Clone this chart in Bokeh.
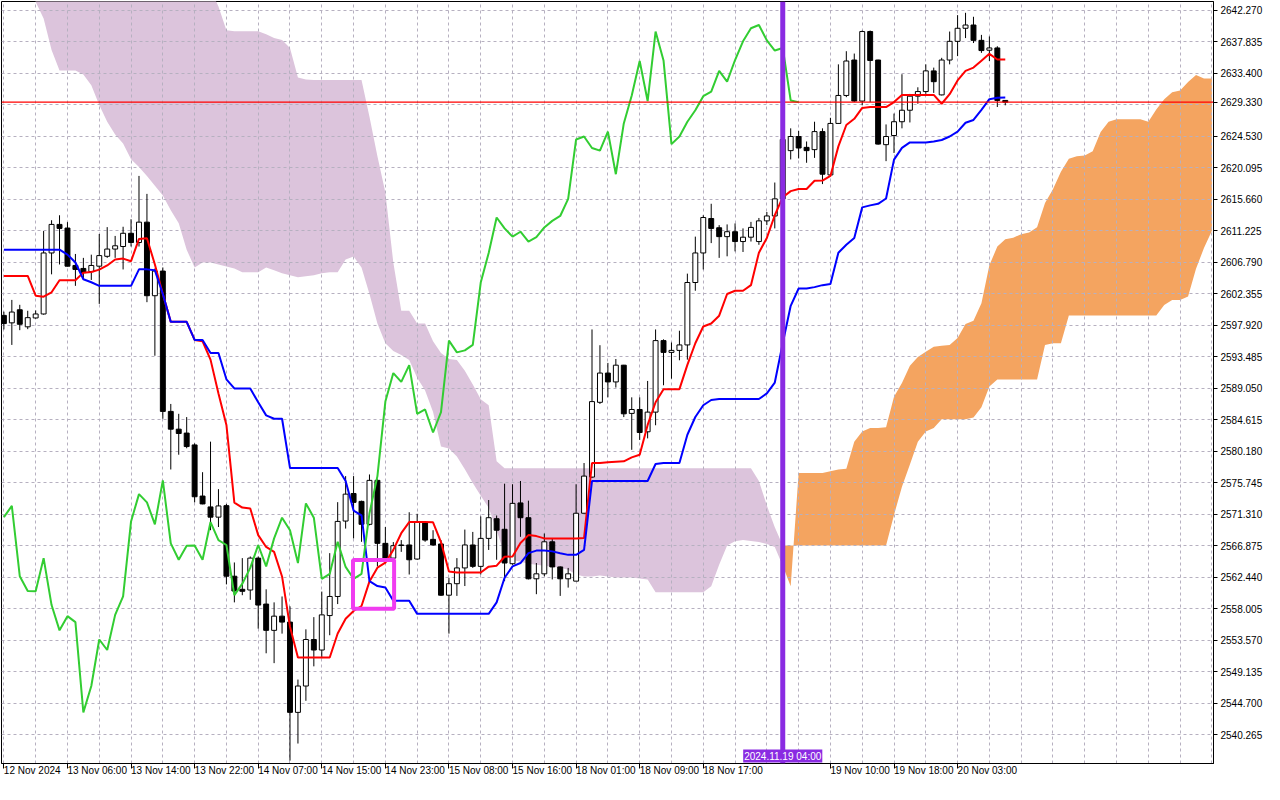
import numpy as np
from bokeh.plotting import figure
from bokeh.models import FixedTicker, Range1d, Span, Label, NumeralTickFormatter
from bokeh.embed import file_html
from bokeh.resources import INLINE

# ---------------- data (XAUUSD H1, Ichimoku 9/26/52) ----------------
opens = [
    2599.30, 2598.25, 2600.09, 2597.69, 2598.94, 2599.50, 2608.09, 2612.11, 2611.60, 2606.33,
    2605.91, 2605.46, 2606.23, 2607.62, 2608.64, 2609.00, 2610.86, 2609.56, 2612.43, 2602.07,
    2605.54, 2585.78, 2583.28, 2582.73, 2581.06, 2573.86, 2572.33, 2570.89, 2572.51, 2562.57,
    2560.73, 2560.63, 2565.12, 2558.65, 2554.95, 2556.95, 2556.11, 2543.40, 2547.11, 2553.66,
    2552.18, 2557.03, 2559.72, 2570.34, 2574.22, 2573.11, 2569.88, 2576.07, 2567.20, 2565.12,
    2566.97, 2566.97, 2564.99, 2570.06, 2567.76, 2567.11, 2559.90, 2561.52, 2563.74, 2566.97,
    2563.96, 2567.90, 2570.67, 2569.18, 2564.33, 2572.89, 2570.81, 2562.21, 2562.91, 2567.42,
    2563.88, 2562.21, 2561.88, 2571.44, 2576.53, 2587.06, 2591.18, 2589.93, 2592.29, 2585.50,
    2586.05, 2582.91, 2585.68, 2595.75, 2594.09, 2594.37, 2595.14, 2603.93, 2608.09, 2612.94,
    2611.64, 2610.39, 2611.08, 2609.70, 2610.31, 2609.70, 2612.61, 2613.30, 2615.71, 2622.50,
    2624.49, 2622.96, 2622.64, 2625.18, 2619.08, 2626.33, 2630.27, 2635.26, 2629.48, 2639.27,
    2635.26, 2623.34, 2624.63, 2626.57, 2628.19, 2630.17, 2630.82, 2633.73, 2630.35, 2635.26,
    2637.89, 2639.73, 2640.19, 2638.03, 2636.64, 2636.96, 2629.57]
highs = [
    2599.82, 2601.48, 2600.79, 2599.95, 2600.00, 2611.18, 2612.70, 2613.40, 2612.43, 2607.95,
    2607.40, 2607.85, 2610.76, 2611.73, 2610.49, 2611.78, 2612.84, 2618.94, 2616.41, 2605.90,
    2606.05, 2586.83, 2585.44, 2584.98, 2581.28, 2577.22, 2581.52, 2574.83, 2572.75, 2564.51,
    2565.12, 2565.35, 2565.35, 2560.73, 2558.89, 2559.72, 2558.33, 2548.02, 2555.09, 2556.81,
    2560.41, 2565.82, 2573.00, 2576.67, 2576.67, 2573.21, 2576.90, 2576.21, 2569.50, 2567.38,
    2567.66, 2571.58, 2571.36, 2570.20, 2569.05, 2567.66, 2562.35, 2565.12, 2569.14, 2568.81,
    2570.99, 2573.30, 2571.12, 2575.60, 2575.52, 2575.98, 2573.21, 2564.43, 2568.59, 2567.90,
    2563.96, 2563.74, 2575.52, 2578.51, 2597.32, 2595.10, 2592.61, 2593.16, 2592.33, 2587.76,
    2587.76, 2590.07, 2597.32, 2595.93, 2595.48, 2597.14, 2605.18, 2610.39, 2613.40, 2615.02,
    2612.01, 2612.11, 2612.25, 2611.55, 2612.47, 2613.02, 2613.86, 2618.01, 2624.60, 2625.64,
    2625.28, 2623.79, 2626.57, 2625.64, 2627.12, 2634.65, 2636.50, 2636.17, 2639.41, 2639.41,
    2635.30, 2626.19, 2627.72, 2633.26, 2630.49, 2631.42, 2634.65, 2634.19, 2635.57, 2639.27,
    2641.58, 2641.91, 2641.35, 2638.80, 2638.58, 2637.20, 2629.57]
lows = [
    2597.32, 2595.14, 2597.22, 2597.36, 2598.84, 2599.40, 2605.08, 2606.47, 2606.19, 2603.46,
    2604.39, 2604.29, 2600.92, 2607.40, 2607.40, 2605.77, 2609.00, 2609.00, 2601.16, 2593.62,
    2584.75, 2577.60, 2579.68, 2580.59, 2572.97, 2572.70, 2569.05, 2569.50, 2561.42, 2558.89,
    2559.90, 2559.25, 2555.19, 2551.72, 2550.33, 2554.49, 2536.61, 2539.01, 2545.03, 2549.88,
    2551.03, 2554.26, 2558.65, 2569.28, 2567.90, 2567.42, 2569.74, 2563.96, 2564.43, 2564.89,
    2566.00, 2562.81, 2564.89, 2567.42, 2566.83, 2559.80, 2554.49, 2559.80, 2561.19, 2563.74,
    2562.81, 2566.27, 2564.89, 2561.88, 2564.19, 2568.12, 2562.12, 2560.04, 2562.57, 2562.12,
    2559.80, 2560.97, 2561.88, 2571.40, 2576.39, 2586.83, 2587.76, 2589.14, 2584.98, 2580.37,
    2581.76, 2581.98, 2583.83, 2589.46, 2590.39, 2592.98, 2593.07, 2602.77, 2605.77, 2609.48,
    2607.40, 2607.62, 2608.31, 2608.23, 2609.70, 2609.24, 2612.01, 2611.55, 2615.20, 2621.26,
    2621.40, 2620.79, 2621.48, 2617.79, 2618.94, 2626.29, 2630.03, 2629.34, 2628.88, 2629.34,
    2623.34, 2621.02, 2622.17, 2625.64, 2626.47, 2629.10, 2630.49, 2630.63, 2630.27, 2634.65,
    2635.81, 2638.35, 2637.65, 2636.27, 2635.12, 2628.64, 2628.88]
closes = [
    2598.15, 2599.77, 2598.05, 2598.98, 2599.50, 2608.09, 2612.11, 2611.55, 2606.23, 2605.77,
    2605.32, 2606.33, 2607.72, 2608.64, 2609.10, 2610.86, 2609.56, 2612.43, 2602.07, 2605.54,
    2585.78, 2583.28, 2582.67, 2580.83, 2573.76, 2572.75, 2570.89, 2572.47, 2562.57, 2560.49,
    2560.45, 2565.12, 2558.51, 2554.95, 2556.95, 2556.11, 2543.40, 2547.11, 2553.66, 2552.18,
    2557.13, 2559.72, 2570.29, 2574.13, 2572.97, 2569.88, 2576.07, 2567.20, 2564.89, 2566.87,
    2566.90, 2564.89, 2570.20, 2567.66, 2566.97, 2559.90, 2561.52, 2563.74, 2566.97, 2563.96,
    2567.90, 2570.81, 2569.05, 2564.43, 2572.83, 2570.81, 2562.21, 2562.91, 2567.42, 2563.88,
    2562.21, 2562.91, 2571.44, 2576.67, 2587.16, 2591.18, 2589.93, 2592.29, 2585.44, 2586.05,
    2582.81, 2585.68, 2595.75, 2594.09, 2594.37, 2595.14, 2603.93, 2608.09, 2613.08, 2611.55,
    2610.39, 2611.08, 2609.70, 2610.31, 2611.69, 2612.61, 2613.30, 2615.71, 2624.07, 2624.49,
    2622.87, 2622.50, 2625.18, 2619.18, 2626.33, 2630.27, 2635.12, 2629.48, 2639.27, 2635.20,
    2623.42, 2624.49, 2626.57, 2628.19, 2630.17, 2630.82, 2633.73, 2632.21, 2635.26, 2637.89,
    2639.73, 2640.19, 2638.03, 2636.59, 2636.96, 2629.57, 2629.33]

tenkan = [
    2604.85, 2604.85, 2604.85, 2604.85, 2602.08, 2601.94, 2602.55, 2604.25, 2604.25, 2604.25,
    2605.32, 2605.40, 2605.74, 2606.33, 2607.16, 2607.30, 2606.93, 2610.07, 2610.17, 2606.47,
    2602.31, 2598.39, 2598.39, 2598.39, 2595.84, 2595.66, 2593.07, 2588.31, 2583.88, 2572.93,
    2572.24, 2572.10, 2568.36, 2566.69, 2566.00, 2562.54, 2555.47, 2551.13, 2551.13, 2551.13,
    2551.13, 2551.13, 2554.50, 2556.58, 2557.68, 2558.38, 2561.84, 2563.78, 2564.48, 2566.28,
    2568.63, 2570.20, 2570.20, 2570.20, 2570.16, 2567.39, 2563.23, 2563.09, 2563.09, 2563.09,
    2563.09, 2563.92, 2564.06, 2565.31, 2565.35, 2567.25, 2568.36, 2568.22, 2567.90, 2567.90,
    2567.90, 2567.90, 2567.90, 2567.94, 2578.51, 2578.51, 2578.61, 2578.68, 2578.75, 2579.31,
    2579.68, 2583.88, 2587.07, 2588.91, 2588.91, 2588.91, 2592.33, 2595.38, 2597.74, 2598.15,
    2599.26, 2602.31, 2602.77, 2602.77, 2603.56, 2608.13, 2610.21, 2613.40, 2615.94, 2616.80,
    2617.10, 2617.10, 2618.25, 2618.29, 2618.94, 2623.10, 2626.11, 2626.98, 2628.51, 2628.64,
    2628.64, 2628.64, 2629.34, 2630.35, 2630.35, 2630.35, 2630.35, 2630.35, 2629.10, 2630.45,
    2632.39, 2633.73, 2634.19, 2635.16, 2636.13, 2635.34, 2635.34]
kijun = [
    2608.55, 2608.55, 2608.55, 2608.55, 2608.55, 2608.55, 2608.55, 2608.55, 2607.86, 2606.75,
    2604.39, 2603.97, 2603.46, 2603.46, 2603.46, 2603.46, 2603.46, 2605.78, 2605.78, 2605.64,
    2602.31, 2598.39, 2598.39, 2598.39, 2595.84, 2595.84, 2594.00, 2594.00, 2590.30, 2589.01,
    2589.01, 2589.01, 2587.07, 2585.22, 2584.75, 2584.75, 2577.82, 2577.82, 2577.82, 2577.82,
    2577.82, 2577.82, 2577.82, 2575.98, 2571.82, 2571.13, 2561.88, 2561.19, 2560.97, 2559.11,
    2559.11, 2559.11, 2557.27, 2557.27, 2557.27, 2557.27, 2557.27, 2557.27, 2557.27, 2557.27,
    2557.27, 2557.27, 2558.89, 2562.36, 2563.96, 2564.43, 2565.82, 2566.18, 2566.18, 2566.07,
    2565.82, 2565.58, 2565.58, 2566.28, 2575.98, 2575.98, 2575.98, 2575.98, 2575.98, 2575.98,
    2575.98, 2575.98, 2578.38, 2578.51, 2578.51, 2578.51, 2582.49, 2584.99, 2586.65, 2587.39,
    2587.52, 2587.52, 2587.52, 2587.52, 2587.52, 2587.52, 2588.31, 2589.84, 2595.38, 2600.65,
    2603.09, 2603.09, 2603.28, 2603.56, 2603.73, 2608.13, 2609.24, 2610.21, 2614.51, 2614.79,
    2615.01, 2615.76, 2621.23, 2622.89, 2623.66, 2623.66, 2623.66, 2623.79, 2624.00, 2624.49,
    2625.18, 2626.43, 2626.82, 2628.23, 2629.75, 2629.96, 2629.98]

# Senkou spans as plotted (already shifted 26 bars forward; 153 bar slots)
span_a = [
    2647.50, 2647.00, 2646.50, 2645.30, 2643.47, 2641.12, 2636.68, 2633.77, 2633.77, 2633.77,
    2633.22, 2631.70, 2628.92, 2626.57, 2624.76, 2623.52, 2621.30, 2620.19, 2618.94, 2617.56,
    2616.17, 2614.09, 2612.29, 2608.55, 2606.05, 2606.75, 2606.75, 2606.47, 2606.19, 2605.91,
    2605.36, 2605.36, 2605.36, 2606.05, 2605.64, 2605.22, 2604.95, 2604.67, 2604.81, 2604.95,
    2605.22, 2605.36, 2605.36, 2607.16, 2607.58, 2606.05, 2602.31, 2598.15, 2595.38, 2594.27,
    2593.72, 2593.03, 2590.53, 2588.73, 2585.68, 2580.83, 2580.55, 2579.44, 2577.64, 2575.70,
    2573.90, 2572.23, 2569.05, 2565.58, 2564.89, 2564.61, 2564.33, 2564.19, 2564.05, 2563.92,
    2563.78, 2563.50, 2562.81, 2562.53, 2562.53, 2562.67, 2562.53, 2562.39, 2562.39, 2562.39,
    2562.26, 2562.12, 2560.32, 2560.32, 2560.32, 2560.32, 2560.32, 2560.32, 2560.32, 2561.15,
    2564.20, 2566.90, 2567.50, 2567.66, 2567.52, 2567.38, 2567.11, 2566.69, 2564.05, 2561.15,
    2577.11, 2577.11, 2577.11, 2577.11, 2577.35, 2577.60, 2577.70, 2581.50, 2582.96, 2583.45,
    2583.45, 2583.54, 2587.83, 2589.78, 2592.22, 2593.44, 2594.17, 2594.90, 2595.04, 2595.14,
    2596.12, 2598.07, 2598.55, 2601.00, 2606.35, 2609.00, 2610.01, 2610.25, 2610.74, 2610.98,
    2611.71, 2615.12, 2617.07, 2619.51, 2621.36, 2621.70, 2621.80, 2622.43, 2625.11, 2626.58,
    2626.92, 2626.92, 2626.92, 2626.92, 2626.58, 2628.28, 2629.74, 2630.72, 2630.96, 2632.18,
    2633.16, 2632.67, 2632.67]
span_b = [
    2648.00, 2648.00, 2648.00, 2648.00, 2648.00, 2648.00, 2648.00, 2648.00, 2648.00, 2648.00,
    2648.00, 2648.00, 2648.00, 2648.00, 2648.00, 2648.00, 2648.00, 2648.00, 2648.00, 2648.00,
    2648.00, 2648.00, 2648.00, 2648.00, 2648.00, 2647.00, 2645.30, 2642.78, 2639.46, 2639.32,
    2639.32, 2639.32, 2639.32, 2638.90, 2638.35, 2638.07, 2636.96, 2632.80, 2632.53, 2632.43,
    2632.43, 2632.43, 2632.43, 2632.43, 2632.43, 2632.43, 2627.26, 2621.72, 2616.59, 2606.74,
    2599.95, 2599.95, 2598.15, 2598.15, 2595.66, 2593.99, 2593.16, 2593.03, 2591.50, 2589.56,
    2587.48, 2586.65, 2578.75, 2577.78, 2577.78, 2577.78, 2577.78, 2577.78, 2577.78, 2577.78,
    2577.78, 2577.78, 2577.78, 2577.78, 2577.78, 2577.78, 2577.78, 2577.78, 2577.78, 2577.78,
    2577.78, 2577.78, 2577.78, 2577.78, 2577.78, 2577.78, 2577.78, 2577.78, 2577.78, 2577.78,
    2577.78, 2577.78, 2577.78, 2577.78, 2577.78, 2575.98, 2572.52, 2569.47, 2566.88, 2566.88,
    2566.88, 2566.88, 2566.88, 2566.88, 2566.88, 2566.88, 2566.88, 2566.88, 2566.88, 2566.88,
    2566.88, 2566.88, 2571.20, 2575.16, 2578.30, 2581.50, 2582.96, 2583.45, 2584.66, 2584.66,
    2584.66, 2584.66, 2584.91, 2586.37, 2589.29, 2590.27, 2590.27, 2590.27, 2590.27, 2590.27,
    2590.27, 2595.14, 2595.39, 2595.39, 2599.28, 2599.28, 2599.28, 2599.28, 2599.28, 2599.28,
    2599.28, 2599.28, 2599.28, 2599.28, 2599.28, 2599.28, 2600.75, 2601.48, 2601.48, 2601.97,
    2605.86, 2608.79, 2611.23]

CHIKOU_SHIFT = 26
CLOUD_SWITCH = 98          # bar where the cloud turns from Span B above (thistle) to Span A above (orange)

x_tick_bars = [0, 8, 16, 24, 32, 40, 48, 56, 64, 72, 80, 88, 104, 112, 120]
x_tick_labels = ["12 Nov 2024", "13 Nov 06:00", "13 Nov 14:00", "13 Nov 22:00", "14 Nov 07:00",
                 "14 Nov 15:00", "14 Nov 23:00", "15 Nov 08:00", "15 Nov 16:00", "18 Nov 01:00",
                 "18 Nov 09:00", "18 Nov 17:00", "19 Nov 10:00", "19 Nov 18:00", "20 Nov 03:00"]
grid_bars = [0, 4, 8, 12, 16, 20, 24, 28, 32, 36, 40, 44, 48, 52, 56, 60, 64, 68, 72, 76, 80, 84, 88,
             92, 96, 100, 104, 108, 112, 116, 120, 124, 128, 132, 136, 140, 144, 148, 152]
y_ticks = [2540.265, 2544.700, 2549.135, 2553.570, 2558.005, 2562.440, 2566.875, 2571.310,
           2575.745, 2580.180, 2584.615, 2589.050, 2593.485, 2597.920, 2602.355, 2606.790,
           2611.225, 2615.660, 2620.095, 2624.530, 2628.965, 2633.400, 2637.835, 2642.270]

bid_price = 2629.33
marker_bar = 98
marker_label = "2024.11.19 04:00"
box_bars = [43.93, 49.10]
box_prices = [2558.00, 2564.85]

# ---------------- figure ----------------
FONT = "Liberation Sans"
o = np.array(opens); h = np.array(highs); l = np.array(lows); c = np.array(closes)
n = len(c)
idx = np.arange(n)
up = c >= o
body_top = np.maximum(o, c)
body_bot = np.minimum(o, c)
cloud_x = np.arange(len(span_a))
sa = np.array(span_a); sb = np.array(span_b)

FRAME_W, FRAME_H = 1212, 762
X0, X1 = -0.3, 152.2
Y0, Y1 = 2536.2, 2643.5
p = figure(frame_width=FRAME_W, frame_height=FRAME_H,
           x_range=Range1d(X0, X1), y_range=Range1d(Y0, Y1),
           x_axis_location="below", y_axis_location="right",
           output_backend="svg", toolbar_location=None,
           min_border_left=1, min_border_top=1, min_border_right=0, min_border_bottom=0,
           background_fill_color="white", border_fill_color="white")
p.outline_line_color = "black"
p.outline_line_width = 1

# cloud
s = CLOUD_SWITCH
p.varea(x=cloud_x[:s + 1], y1=sa[:s + 1], y2=sb[:s + 1], fill_color="#DCC4DC", level="image")
p.varea(x=cloud_x[s:], y1=sa[s:], y2=sb[s:], fill_color="#F4A460", level="image")

# grid
p.xgrid.ticker = FixedTicker(ticks=grid_bars)
p.ygrid.ticker = FixedTicker(ticks=y_ticks)
p.grid.grid_line_color = "#B6B0C0"
p.grid.grid_line_dash = "3 3"
p.grid.grid_line_width = 1

# candles
p.segment(x0=idx, y0=l, x1=idx, y1=h, line_color="black", line_width=1)
p.vbar(x=idx[up], width=0.62, top=body_top[up], bottom=body_bot[up],
       fill_color="white", line_color="black", line_width=1)
p.vbar(x=idx[~up], width=0.62, top=body_top[~up], bottom=body_bot[~up],
       fill_color="black", line_color="black", line_width=1)

# Ichimoku lines
p.line(idx, tenkan, line_color="#FF0000", line_width=2)
p.line(idx, kijun, line_color="#0000FF", line_width=2)
p.line(idx[:n - CHIKOU_SHIFT], c[CHIKOU_SHIFT:], line_color="#32CD32", line_width=2)

# user rectangle
p.quad(left=[box_bars[0]], right=[box_bars[1]], bottom=[box_prices[0]], top=[box_prices[1]],
       fill_alpha=0, line_color="#F03CF0", line_width=4)

# bid line (drawn as a glyph across the bar range) and vertical marker
p.line(x=[X0, X1], y=[bid_price, bid_price], line_color="#FF0000", line_width=1.2)
p.add_layout(Span(location=marker_bar, dimension="height", line_color="#8A2BE2", line_width=5))

# axes
xa = p.xaxis[0]
xa.ticker = FixedTicker(ticks=x_tick_bars)
xa.major_label_overrides = {b: t for b, t in zip(x_tick_bars, x_tick_labels)}
xa.major_label_orientation = -0.0001   # tiny negative angle -> labels start at their tick
xa.major_tick_out = 5
xa.major_tick_in = 0
xa.minor_tick_out = 0
xa.major_label_standoff = 2
xa.axis_line_color = "black"
xa.major_tick_line_color = "black"
xa.major_label_text_font = FONT
xa.major_label_text_font_size = "10px"
xa.major_label_text_color = "black"

# price axis: the bid price replaces the grid level it covers
ya = p.yaxis[0]
ya.ticker = FixedTicker(ticks=[t for t in y_ticks if abs(t - bid_price) > 1.0] + [bid_price])
ya.formatter = NumeralTickFormatter(format="0.000")
ya.major_tick_out = 4
ya.major_tick_in = 0
ya.minor_tick_out = 0
ya.major_label_standoff = 3
ya.axis_line_color = "black"
ya.major_tick_line_color = "black"
ya.major_label_text_font = FONT
ya.major_label_text_font_size = "10px"
ya.major_label_text_color = "black"

# time flag of the vertical marker, at the foot of the line
p.add_layout(Label(x=marker_bar, y=Y0, y_offset=1, text=marker_label,
                   text_color="white", text_font=FONT, text_font_size="10px",
                   text_align="center", text_baseline="bottom",
                   background_fill_color="#8A2BE2", padding=1))

open("out.html", "w").write(file_html(p, INLINE))
